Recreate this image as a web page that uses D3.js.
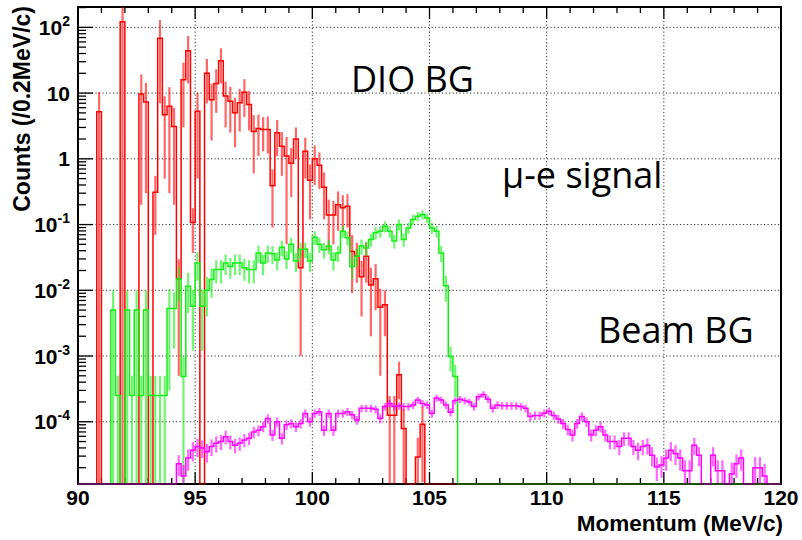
<!DOCTYPE html>
<html>
<head>
<meta charset="utf-8">
<script src="https://cdn.jsdelivr.net/npm/d3@7"></script>
<style>
  html, body { margin: 0; padding: 0; background: #ffffff; }
  svg { display: block; }
  .tick-label { font-family: "Liberation Sans", Arial, Helvetica, sans-serif; font-weight: bold; fill: #000; }
  .axis-title { font-family: "Liberation Sans", Arial, Helvetica, sans-serif; font-weight: bold; fill: #000; }
  .note { font-family: "Open Sans", "Noto Sans", sans-serif; fill: #000; }
</style>
</head>
<body>
<svg id="chart" width="802" height="540"></svg>
<script>
// Momentum spectrum in 0.2 MeV/c bins, 90 to 120 MeV/c
const binStart = 90;
const binWidth = 0.2;
const binCount = 150;

const xTickValues = [90, 95, 100, 105, 110, 115, 120];
const yTickExponents = [-4, -3, -2, -1, 0, 1, 2];
const yLimits = [1.13e-5, 204];

// DIO background: counts per bin (index 0 = 90.0-90.2 MeV/c)
const dioCounts = [
  0, 0, 0, 0, 5.2, 0, 0, 0, 0, 122,
  0, 0, 0, 9.7, 7.3, 0, 0.31, 68, 4.7, 6.3,
  3.1, 0.015, 16, 44, 0.107, 5.3, 0, 20, 7.9, 14,
  31, 9, 7.5, 5, 7.1, 10.3, 6.7, 2.6, 2.9, 2.8,
  2.8, 0.39, 2.5, 1.55, 1.1, 0.86, 2.0, 0.022, 1.3, 0.47,
  1.0, 0.8, 0.37, 0.14, 0.14, 0.2, 0.18, 0.19, 0.039, 0.033,
  0.016, 0.033, 0.012, 0.015, 0.0055, 0.006, 1.26e-4, 1.26e-4, 5.2e-4, 7.9e-5,
  0, 0, 2.9e-5, 9.2e-5
];
const dioErrors = [
  0, 0, 0, 0, 5.2, 0, 0, 0, 0, 122,
  0, 0, 0, 9.5, 7, 0, 0.24, 61, 4.2, 6,
  2.9, 0.0145, 13, 30, 0.07, 4.8, 0, 13, 6, 9,
  17, 6, 5, 3.5, 4.5, 6, 4, 2, 1.8, 1.5,
  1.6, 0.3, 1.4, 1.0, 1.05, 0.6, 1.0, 0.021, 0.8, 0.35,
  0.6, 0.45, 0.25, 0.1, 0.09, 0.12, 0.1, 0.1, 0.03, 0.02,
  0.012, 0.02, 0.01, 0.01, 0.005, 0.004, 1.2e-4, 1.2e-4, 3e-4, 7.8e-5,
  0, 0, 2.8e-5, 8e-5
];

// mu-e conversion signal
const signalCounts = [
  0, 0, 0, 0, 0, 0, 0, 5e-3, 2.5e-4, 0,
  5e-3, 2.5e-4, 5e-3, 2.5e-4, 5e-3, 2.5e-4, 2.5e-4, 2.5e-4, 2.5e-4, 5.3e-3,
  5.3e-3, 0.0149, 4.9e-4, 0.0115, 5.7e-3, 0.026, 5.7e-3, 0.01, 0.0146, 0.0207,
  0.0207, 0.026, 0.023, 0.026, 0.026, 0.022, 0.0207, 0.0207, 0.037, 0.026,
  0.037, 0.036, 0.029, 0.045, 0.03, 0.05, 0.028, 0.042, 0.042, 0.028,
  0.064, 0.05, 0.0415, 0.047, 0.029, 0.037, 0.079, 0.063, 0.023, 0.033,
  0.047, 0.044, 0.059, 0.075, 0.079, 0.094, 0.079, 0.056, 0.1, 0.059,
  0.089, 0.119, 0.134, 0.142, 0.126, 0.089, 0.079, 0.037, 0.0117, 9.8e-4,
  4.9e-4
];
const signalErrors = [
  0, 0, 0, 0, 0, 0, 0, 5e-3, 2.5e-4, 0,
  5e-3, 2.5e-4, 5e-3, 2.5e-4, 5e-3, 2.5e-4, 2.5e-4, 2.5e-4, 2.5e-4, 5e-3,
  4e-3, 0.008, 4.8e-4, 0.007, 4.5e-3, 0.012, 4.5e-3, 0.006, 0.007, 0.008,
  0.008, 0.009, 0.008, 0.009, 0.009, 0.008, 0.008, 0.008, 0.011, 0.009,
  0.011, 0.011, 0.009, 0.012, 0.009, 0.013, 0.009, 0.011, 0.011, 0.009,
  0.015, 0.013, 0.011, 0.012, 0.009, 0.01, 0.017, 0.015, 0.008, 0.01,
  0.012, 0.011, 0.013, 0.016, 0.016, 0.018, 0.016, 0.013, 0.019, 0.013,
  0.017, 0.021, 0.022, 0.023, 0.021, 0.017, 0.016, 0.01, 0.005, 4e-4,
  2.5e-4
];

// Beam-related background
const beamCounts = [
  0, 0, 0, 0, 0, 0, 0, 0, 0, 0,
  0, 0, 0, 0, 0, 0, 0, 0, 0, 0,
  0, 2.3e-5, 1.5e-5, 2.8e-5, 3.7e-5, 4.2e-5, 4.0e-5, 3.5e-5, 4.2e-5, 4.7e-5,
  5.0e-5, 5.9e-5, 5.0e-5, 4.4e-5, 4.7e-5, 5.3e-5, 5.6e-5, 7.0e-5, 7.4e-5, 8.4e-5,
  1.12e-4, 6.3e-5, 1.0e-4, 5.6e-5, 9.0e-5, 9.4e-5, 8.4e-5, 9.4e-5, 1.34e-4, 1.0e-4,
  1.34e-4, 1.42e-4, 7.4e-5, 1.34e-4, 7.4e-5, 1.34e-4, 1.34e-4, 1.42e-4, 1.28e-4, 1.06e-4,
  1.6e-4, 1.6e-4, 1.6e-4, 1.55e-4, 1.12e-4, 1.7e-4, 1.9e-4, 1.7e-4, 1.75e-4, 1.7e-4,
  1.7e-4, 1.8e-4, 2.15e-4, 1.9e-4, 1.8e-4, 1.34e-4, 2.3e-4, 2.15e-4, 1.8e-4, 1.4e-4,
  2.1e-4, 2.2e-4, 2.1e-4, 2.0e-4, 1.7e-4, 2.4e-4, 2.6e-4, 2.2e-4, 1.6e-4, 1.8e-4,
  1.75e-4, 1.75e-4, 1.75e-4, 1.75e-4, 1.7e-4, 1.6e-4, 1.2e-4, 1.25e-4, 1.25e-4, 1.35e-4,
  1.45e-4, 1.25e-4, 1.1e-4, 9.4e-5, 7.6e-5, 6.3e-5, 9.4e-5, 1.2e-4, 1.0e-4, 6.3e-5,
  7.4e-5, 8.4e-5, 6.3e-5, 5.0e-5, 5.0e-5, 4.2e-5, 5.6e-5, 5.6e-5, 4.2e-5, 3.7e-5,
  4.2e-5, 4.4e-5, 3.1e-5, 2.05e-5, 2.2e-5, 2.8e-5, 3.7e-5, 3.3e-5, 2.8e-5, 1.8e-5,
  1.8e-5, 4.4e-5, 3.1e-5, 0, 0, 3.1e-5, 1.8e-5, 1.8e-5, 0, 1.6e-5,
  2.3e-5, 2.8e-5, 0, 0, 2.0e-5, 2.0e-5, 1.5e-5
];
const beamErrors = [
  0, 0, 0, 0, 0, 0, 0, 0, 0, 0,
  0, 0, 0, 0, 0, 0, 0, 0, 0, 0,
  0, 8e-6, 7e-6, 1e-5, 1.2e-5, 1.3e-5, 1.2e-5, 1.1e-5, 1.2e-5, 1.3e-5,
  1.3e-5, 1.4e-5, 1.2e-5, 1.1e-5, 1.1e-5, 1.2e-5, 1.2e-5, 1.4e-5, 1.4e-5, 1.5e-5,
  1.8e-5, 1.2e-5, 1.6e-5, 1.1e-5, 1.5e-5, 1.5e-5, 1.4e-5, 1.5e-5, 1.9e-5, 1.6e-5,
  1.9e-5, 2e-5, 1.3e-5, 1.9e-5, 1.3e-5, 1.9e-5, 1.9e-5, 2e-5, 1.8e-5, 1.6e-5,
  2.1e-5, 2.1e-5, 2.1e-5, 2.1e-5, 1.7e-5, 2.2e-5, 2.4e-5, 2.2e-5, 2.2e-5, 2.2e-5,
  2.2e-5, 2.3e-5, 2.6e-5, 2.4e-5, 2.3e-5, 1.9e-5, 2.8e-5, 2.6e-5, 2.3e-5, 2e-5,
  2.6e-5, 2.7e-5, 2.6e-5, 2.5e-5, 2.2e-5, 2.9e-5, 3.1e-5, 2.7e-5, 2.2e-5, 2.4e-5,
  2.3e-5, 2.3e-5, 2.3e-5, 2.3e-5, 2.2e-5, 2.2e-5, 1.8e-5, 1.8e-5, 1.8e-5, 1.9e-5,
  2e-5, 1.8e-5, 1.7e-5, 1.6e-5, 1.4e-5, 1.3e-5, 1.6e-5, 1.8e-5, 1.7e-5, 1.3e-5,
  1.4e-5, 1.5e-5, 1.3e-5, 1.2e-5, 1.2e-5, 1.1e-5, 1.3e-5, 1.3e-5, 1.1e-5, 1.1e-5,
  1.1e-5, 1.2e-5, 1e-5, 8e-6, 8e-6, 1e-5, 1.2e-5, 1.1e-5, 1e-5, 8e-6,
  8e-6, 1.3e-5, 1e-5, 0, 0, 1e-5, 8e-6, 8e-6, 0, 8e-6,
  9e-6, 1e-5, 0, 0, 9e-6, 9e-6, 8e-6
];

// Drawn in this order so the beam histogram sits on top
const series = [
  { name: "DIO BG", counts: dioCounts, errors: dioErrors, color: "#ff0000" },
  { name: "signal", counts: signalCounts, errors: signalErrors, color: "#11ee11" },
  { name: "Beam BG", counts: beamCounts, errors: beamErrors, color: "#ff00ff" }
];

const svg = d3.select("#chart");
const frame = { left: 78, right: 781, top: 7, bottom: 484 };

const x = d3.scaleLinear()
  .domain([binStart, binStart + binCount * binWidth])
  .range([frame.left, frame.right]);
const y = d3.scaleLog()
  .domain(yLimits)
  .range([frame.bottom, frame.top]);

const yPix = v => (v > yLimits[0] ? y(v) : frame.bottom);

svg.append("defs").append("clipPath").attr("id", "plotClip")
  .append("rect")
  .attr("x", frame.left).attr("y", frame.top)
  .attr("width", frame.right - frame.left)
  .attr("height", frame.bottom - frame.top + 1);

// dotted grid
const grid = svg.append("g").attr("stroke", "#333").attr("stroke-width", 1)
  .attr("stroke-dasharray", "1.2,2.3");
grid.selectAll("line.gx")
  .data(xTickValues.slice(1, -1))
  .join("line")
  .attr("x1", d => x(d)).attr("x2", d => x(d))
  .attr("y1", frame.top).attr("y2", frame.bottom);
grid.selectAll("line.gy")
  .data(yTickExponents)
  .join("line")
  .attr("x1", frame.left).attr("x2", frame.right)
  .attr("y1", d => y(Math.pow(10, d))).attr("y2", d => y(Math.pow(10, d)));

// frame
svg.append("rect")
  .attr("x", frame.left).attr("y", frame.top)
  .attr("width", frame.right - frame.left)
  .attr("height", frame.bottom - frame.top)
  .attr("fill", "none").attr("stroke", "#000").attr("stroke-width", 2);

// x axis ticks (inside, bottom and top)
const xMinor = d3.range(binStart, binStart + binCount * binWidth + 0.001, 1)
  .filter(v => xTickValues.indexOf(Math.round(v)) < 0);
function xTicks(yBase, dir) {
  const g = svg.append("g").attr("stroke", "#000").attr("stroke-width", 1.3);
  g.selectAll("line.maj").data(xTickValues).join("line")
    .attr("x1", d => x(d)).attr("x2", d => x(d))
    .attr("y1", yBase).attr("y2", yBase + dir * 12);
  g.selectAll("line.min").data(xMinor).join("line")
    .attr("x1", d => x(d)).attr("x2", d => x(d))
    .attr("y1", yBase).attr("y2", yBase + dir * 6);
}
xTicks(frame.bottom, -1);
xTicks(frame.top, 1);

svg.append("g").selectAll("text").data(xTickValues).join("text")
  .attr("class", "tick-label")
  .attr("x", d => x(d)).attr("y", 505)
  .attr("text-anchor", "middle")
  .attr("font-size", 21)
  .text(d => d);

// y axis ticks (log decades with minor ticks)
const yMinor = [];
for (let e = -5; e <= 2; e++) {
  for (let m = 2; m <= 9; m++) {
    const v = m * Math.pow(10, e);
    if (v > yLimits[0] && v < yLimits[1]) yMinor.push(v);
  }
}
const yt = svg.append("g").attr("stroke", "#000").attr("stroke-width", 1.3);
yt.selectAll("line.maj").data(yTickExponents).join("line")
  .attr("x1", frame.left).attr("x2", frame.left + 15)
  .attr("y1", d => y(Math.pow(10, d))).attr("y2", d => y(Math.pow(10, d)));
yt.selectAll("line.min").data(yMinor).join("line")
  .attr("x1", frame.left).attr("x2", frame.left + 8)
  .attr("y1", d => y(d)).attr("y2", d => y(d));

const yLab = svg.append("g").selectAll("text").data(yTickExponents).join("text")
  .attr("class", "tick-label")
  .attr("x", 70)
  .attr("y", d => y(Math.pow(10, d)) + 7.5)
  .attr("text-anchor", "end")
  .attr("font-size", 21);
yLab.each(function (d) {
  const t = d3.select(this);
  if (d === 0) { t.text("1"); return; }
  if (d === 1) { t.text("10"); return; }
  t.append("tspan").text("10");
  t.append("tspan").attr("font-size", 14).attr("dy", -9).text(String(d));
});

// histograms: error bars then step outline, clipped to the frame
const plot = svg.append("g").attr("clip-path", "url(#plotClip)");
const binValue = (arr, i) => (i < arr.length ? arr[i] : 0);

series.forEach(s => {
  const g = plot.append("g");
  const bins = d3.range(binCount).filter(i => binValue(s.counts, i) > 0);
  g.selectAll("line.err").data(bins).join("line")
    .attr("x1", i => x(binStart + (i + 0.5) * binWidth))
    .attr("x2", i => x(binStart + (i + 0.5) * binWidth))
    .attr("y1", i => yPix(binValue(s.counts, i) + binValue(s.errors, i)))
    .attr("y2", i => yPix(binValue(s.counts, i) - binValue(s.errors, i)))
    .attr("stroke", s.color).attr("stroke-width", 2.2).attr("stroke-opacity", 0.6);

  const p = d3.path();
  p.moveTo(x(binStart), yPix(binValue(s.counts, 0)));
  for (let i = 0; i < binCount; i++) {
    const yy = yPix(binValue(s.counts, i));
    p.lineTo(x(binStart + i * binWidth), yy);
    p.lineTo(x(binStart + (i + 1) * binWidth), yy);
  }
  g.append("path").attr("d", p.toString())
    .attr("fill", "none").attr("stroke", s.color)
    .attr("stroke-width", 1.5).attr("stroke-linejoin", "miter");
});

// darken the empty-bin baseline where it runs along the axis
svg.append("line")
  .attr("x1", frame.left).attr("x2", frame.right)
  .attr("y1", frame.bottom).attr("y2", frame.bottom)
  .attr("stroke", "#000").attr("stroke-opacity", 0.55).attr("stroke-width", 2);

// axis titles
svg.append("text").attr("class", "axis-title")
  .attr("transform", "translate(30,6) rotate(-90)")
  .attr("text-anchor", "end").attr("font-size", 23)
  .text("Counts (/0.2MeV/c)");
svg.append("text").attr("class", "axis-title")
  .attr("x", 783).attr("y", 531)
  .attr("text-anchor", "end").attr("font-size", 22.5)
  .text("Momentum (MeV/c)");

// component labels
const notes = [
  { text: "DIO BG", x: 351, y: 92 },
  { text: "\u03bc-e signal", x: 502, y: 188 },
  { text: "Beam BG", x: 598, y: 343 }
];
svg.append("g").selectAll("text").data(notes).join("text")
  .attr("class", "note")
  .attr("x", d => d.x).attr("y", d => d.y)
  .attr("font-size", 36)
  .text(d => d.text);
</script>
</body>
</html>
